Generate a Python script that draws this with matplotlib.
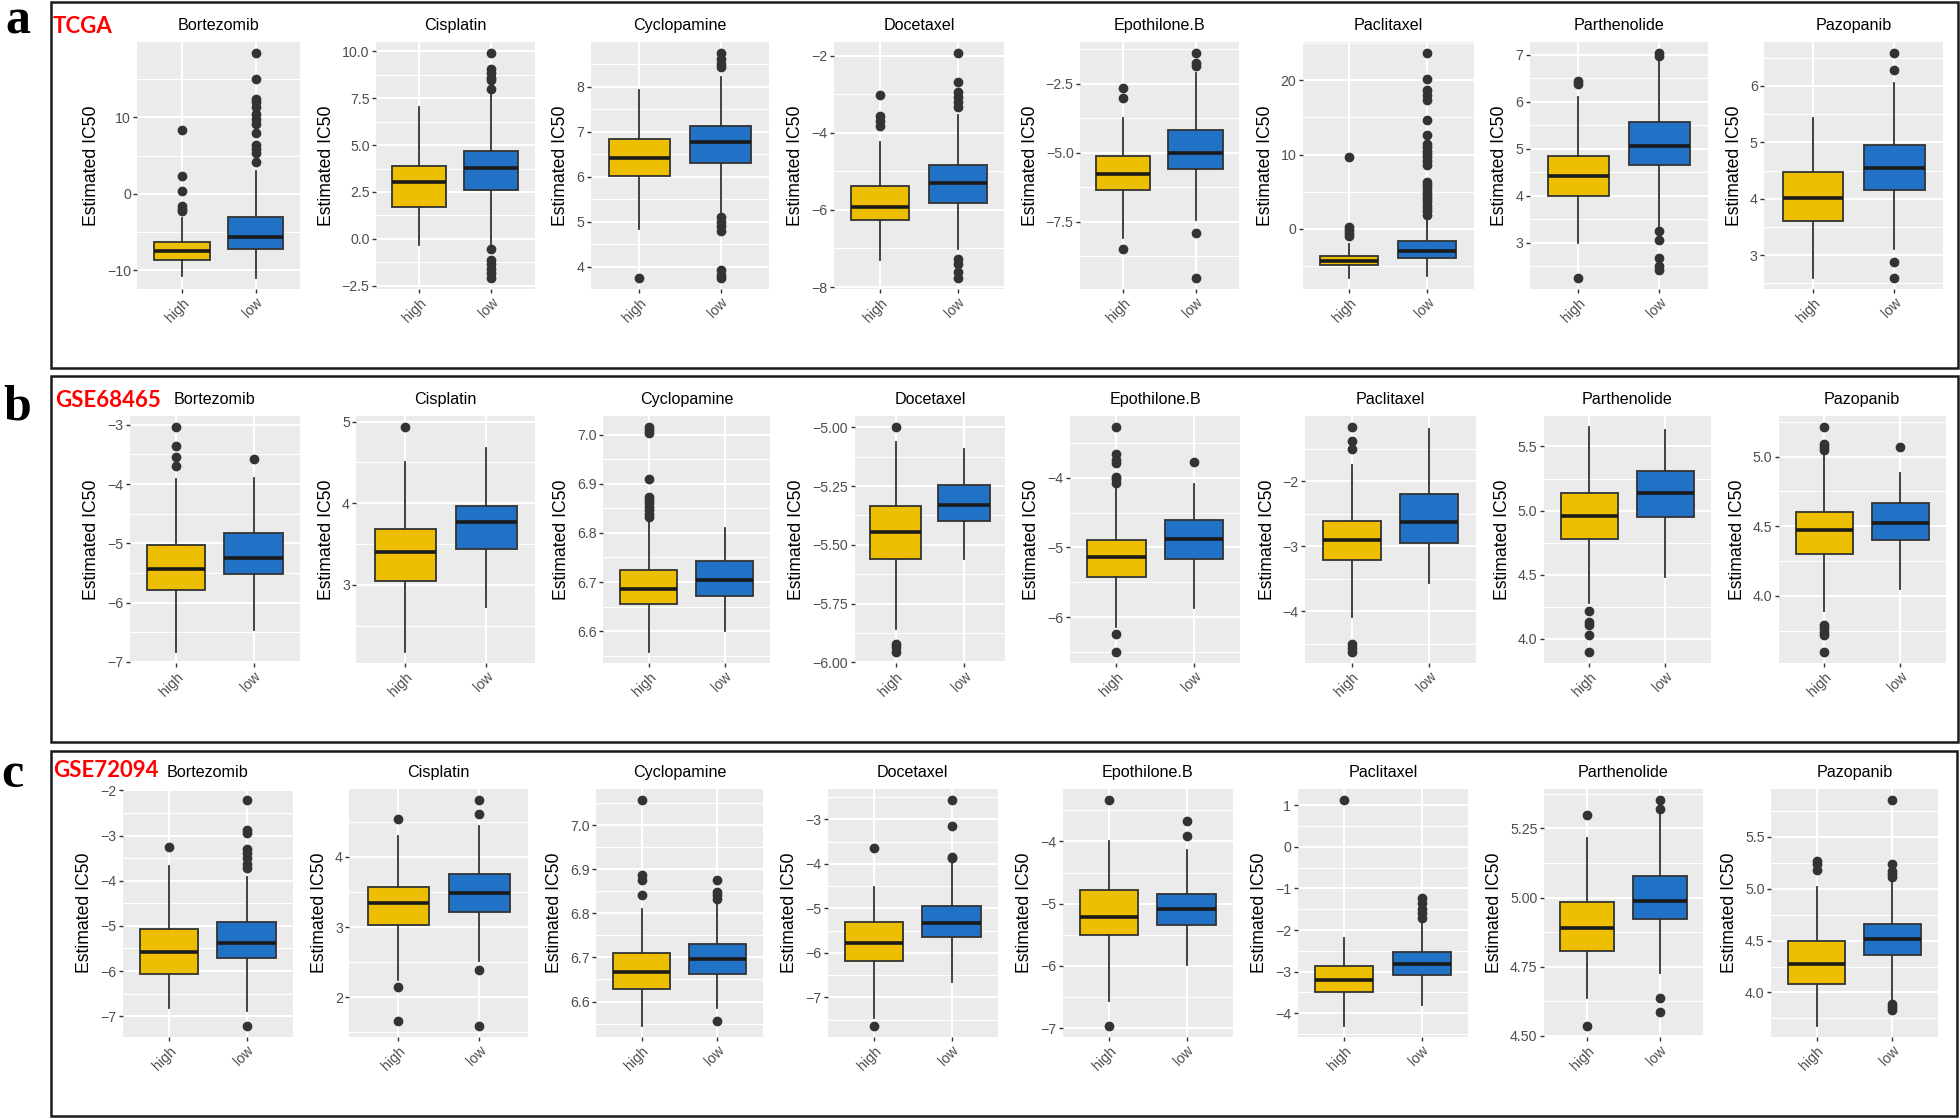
import matplotlib.pyplot as plt
from matplotlib.patches import Rectangle

drugs = ["Bortezomib", "Cisplatin", "Cyclopamine", "Docetaxel",
         "Epothilone.B", "Paclitaxel", "Parthenolide", "Pazopanib"]
groups = ["high", "low"]
cohorts = ["TCGA", "GSE68465", "GSE72094"]
tags = ["a", "b", "c"]
colors = ["#EDBF00", "#2171C7"]

# five-number summaries per drug: [lower whisker, q1, median, q3, upper whisker]
tcga_high = [
    [-10.76, -8.63, -7.5, -6.29, -3.17],
    [-0.30, 1.70, 3.04, 3.90, 7.0],
    [4.83, 6.02, 6.42, 6.84, 7.93],
    [-7.31, -6.26, -5.92, -5.39, -4.25],
    [-8.09, -6.35, -5.76, -5.12, -3.73],
    [-6.62, -4.92, -4.3, -3.62, -2.01],
    [2.99, 3.99, 4.42, 4.85, 6.1],
    [2.6, 3.6, 4.02, 4.47, 5.44],
]
tcga_low = [
    [-10.98, -7.2, -5.68, -3.04, 3.04],
    [-0.3, 2.61, 3.76, 4.68, 7.83],
    [5.15, 6.31, 6.76, 7.12, 8.21],
    [-7.02, -5.83, -5.31, -4.84, -3.53],
    [-7.45, -5.6, -5.02, -4.16, -2.12],
    [-6.4, -3.94, -3.04, -1.7, 1.5],
    [3.32, 4.66, 5.05, 5.57, 6.89],
    [3.11, 4.16, 4.54, 4.95, 6.05],
]
tcga_high_out = [
    [8.3, 2.3, 0.4, -1.6, -2.0, -2.2],
    [],
    [3.75],
    [-3.01, -3.56, -3.69, -3.82],
    [-2.64, -3.02, -8.47],
    [9.62, 0.18, -0.13, -0.58, -0.94],
    [6.45, 6.38, 2.26],
    [],
]
tcga_low_out = [
    [18.4, 15.0, 12.4, 12.0, 11.4, 10.5, 9.8, 9.2, 7.9, 6.4, 5.9, 5.3, 4.2],
    [9.89, 9.06, 8.83, 8.59, 8.45, 8.0, -0.53, -1.1, -1.36, -1.59, -1.8, -2.07],
    [8.74, 8.61, 8.5, 8.43, 5.11, 5.0, 4.89, 4.78, 3.92, 3.82, 3.75],
    [-1.94, -2.69, -2.95, -3.08, -3.21, -3.34, -7.28, -7.41, -7.62, -7.76],
    [-1.39, -1.75, -1.87, -7.91, -9.53],
    [23.67, 20.22, 18.66, 17.99, 17.32, 14.72, 12.62, 11.41, 10.96, 10.51,
     10.07, 9.62, 9.17, 8.59, 6.35, 5.91, 5.46, 5.01, 4.58, 4.12, 3.67,
     3.22, 2.77, 2.33, 1.8],
    [7.03, 6.98, 3.25, 3.07, 2.68, 2.5, 2.43],
    [6.58, 6.29, 2.88, 2.6],
]
tcga_yticks = [
    [-10, 0, 10], [-2.5, 0, 2.5, 5, 7.5, 10], [4, 5, 6, 7, 8], [-8, -6, -4, -2],
    [-7.5, -5, -2.5], [0, 10, 20], [3, 4, 5, 6, 7], [3, 4, 5, 6],
]

gse68465_high = [
    [-6.83, -5.79, -5.43, -5.03, -3.91],
    [2.18, 3.05, 3.40, 3.68, 4.5],
    [6.558, 6.655, 6.685, 6.724, 6.823],
    [-5.859, -5.559, -5.445, -5.336, -5.061],
    [-6.15, -5.43, -5.14, -4.89, -4.13],
    [-4.09, -3.21, -2.90, -2.61, -1.75],
    [4.28, 4.78, 4.96, 5.14, 5.65],
    [3.89, 4.30, 4.47, 4.6, 5.03],
]
gse68465_low = [
    [-6.46, -5.51, -5.24, -4.83, -3.9],
    [2.73, 3.44, 3.77, 3.96, 4.67],
    [6.601, 6.671, 6.704, 6.742, 6.81],
    [-5.559, -5.397, -5.329, -5.244, -5.092],
    [-5.87, -5.16, -4.88, -4.6, -4.08],
    [-3.56, -2.95, -2.62, -2.19, -1.2],
    [4.48, 4.95, 5.14, 5.31, 5.63],
    [4.05, 4.40, 4.52, 4.67, 4.88],
]
gse68465_high_out = [
    [-3.04, -3.35, -3.54, -3.70],
    [4.93],
    [7.015, 7.009, 7.004, 6.910, 6.874, 6.867, 6.860, 6.853, 6.847, 6.838, 6.832],
    [-5.0, -5.922, -5.936, -5.955],
    [-3.27, -3.65, -3.74, -3.78, -3.98, -4.02, -4.07, -6.25, -6.5],
    [-1.17, -1.38, -1.5, -4.5, -4.56, -4.62],
    [4.22, 4.13, 4.11, 4.03, 3.9],
    [5.21, 5.09, 5.07, 5.05, 3.79, 3.77, 3.74, 3.72, 3.60],
]
gse68465_low_out = [
    [-3.57], [], [], [], [-3.77], [], [], [5.07],
]
gse68465_yticks = [
    [-7, -6, -5, -4, -3], [3, 4, 5], [6.6, 6.7, 6.8, 6.9, 7.0],
    [-6.0, -5.75, -5.5, -5.25, -5.0], [-6, -5, -4], [-4, -3, -2],
    [4.0, 4.5, 5.0, 5.5], [4.0, 4.5, 5.0],
]

gse72094_high = [
    [-6.81, -6.07, -5.58, -5.08, -3.67],
    [2.25, 3.03, 3.34, 3.57, 4.3],
    [6.545, 6.629, 6.666, 6.711, 6.811],
    [-7.46, -6.19, -5.79, -5.31, -4.51],
    [-6.56, -5.51, -5.22, -4.78, -4.0],
    [-4.3, -3.49, -3.19, -2.86, -2.18],
    [4.638, 4.807, 4.891, 4.985, 5.216],
    [3.68, 4.08, 4.27, 4.5, 5.02],
]
gse72094_low = [
    [-6.88, -5.71, -5.38, -4.91, -3.92],
    [2.51, 3.21, 3.48, 3.75, 4.44],
    [6.585, 6.663, 6.697, 6.731, 6.826],
    [-6.66, -5.65, -5.32, -4.94, -3.95],
    [-5.98, -5.34, -5.08, -4.85, -4.14],
    [-3.8, -3.09, -2.82, -2.53, -1.84],
    [4.728, 4.921, 4.989, 5.078, 5.304],
    [3.91, 4.36, 4.51, 4.66, 5.09],
]
gse72094_high_out = [
    [-3.25],
    [4.54, 2.14, 1.66],
    [7.057, 6.888, 6.875, 6.843],
    [-3.65, -7.64],
    [-3.34, -6.96],
    [1.12],
    [5.298, 4.536],
    [5.27, 5.24, 5.18],
]
gse72094_low_out = [
    [-2.22, -2.88, -2.95, -3.3, -3.39, -3.49, -3.62, -3.71, -7.21],
    [4.81, 4.62, 2.39, 1.59],
    [6.875, 6.849, 6.842, 6.832, 6.556],
    [-2.57, -3.14, -3.85, -3.87],
    [-3.68, -3.91],
    [-1.24, -1.36, -1.5, -1.6, -1.7],
    [5.352, 5.322, 4.636, 4.584],
    [5.85, 5.24, 5.17, 5.14, 5.11, 3.89, 3.86, 3.83],
]
gse72094_yticks = [
    [-7, -6, -5, -4, -3, -2], [2, 3, 4], [6.6, 6.7, 6.8, 6.9, 7.0],
    [-7, -6, -5, -4, -3], [-7, -6, -5, -4], [-4, -3, -2, -1, 0, 1],
    [4.5, 4.75, 5.0, 5.25], [4.0, 4.5, 5.0, 5.5],
]

rows = [
    (tcga_high, tcga_low, tcga_high_out, tcga_low_out, tcga_yticks),
    (gse68465_high, gse68465_low, gse68465_high_out, gse68465_low_out, gse68465_yticks),
    (gse72094_high, gse72094_low, gse72094_high_out, gse72094_low_out, gse72094_yticks),
]

# layout in pixels
W, H = 1960, 1119
panel_top = [42, 416, 789]
panel_bottom = [289, 663, 1037]
first_right = [300, 300, 293]
step = [234.7, 235.1, 235.0]
frames = [(50.5, 1.5, 1957.5, 367.5), (50.5, 376, 1957.5, 742), (50.5, 750.5, 1957, 1116)]
tag_pos = [(5, 33), (3, 419), (1, 787)]
cohort_pos = [(53, 33), (55, 407), (53, 777)]

plt.rcParams['font.family'] = ['Liberation Sans', 'DejaVu Sans']


def fmt_ticks(ticks):
    dec = 0
    for t in ticks:
        s = f"{t:g}"
        if "." in s:
            dec = max(dec, len(s.split(".")[1]))
    return [f"{t:.{dec}f}".replace("-", "\u2212") for t in ticks]


def px_rect(left, top, right, bottom):
    return [left / W, 1 - bottom / H, (right - left) / W, (bottom - top) / H]


fig = plt.figure(figsize=(W / 100, H / 100), dpi=100)
panels = []

for r, (hi, lo, hi_out, lo_out, yticks) in enumerate(rows):
    for i, drug in enumerate(drugs):
        right = first_right[r] + step[r] * i
        ax = fig.add_axes(px_rect(right - 160, panel_top[r], right, panel_bottom[r]))
        stats = [
            dict(whislo=hi[i][0], q1=hi[i][1], med=hi[i][2], q3=hi[i][3], whishi=hi[i][4], fliers=hi_out[i]),
            dict(whislo=lo[i][0], q1=lo[i][1], med=lo[i][2], q3=lo[i][3], whishi=lo[i][4], fliers=lo_out[i]),
        ]
        bp = ax.bxp(stats, positions=[1, 2], widths=0.75, patch_artist=True,
                    showcaps=False, manage_ticks=False,
                    boxprops=dict(edgecolor="#333333", linewidth=1.3),
                    medianprops=dict(color="#1a1a1a", linewidth=2.6),
                    whiskerprops=dict(color="#333333", linewidth=1.3),
                    flierprops=dict(marker="o", markerfacecolor="#333333",
                                    markeredgecolor="#333333", markersize=6))
        for patch, c in zip(bp["boxes"], colors):
            patch.set_facecolor(c)

        ax.set_xlim(0.4, 2.6)
        ylim = ax.get_ylim()
        ticks = yticks[i]
        d = ticks[1] - ticks[0]
        minor = [t - d / 2 for t in ticks] + [ticks[-1] + d / 2]
        ax.set_yticks(ticks)
        ax.set_yticklabels(fmt_ticks(ticks))
        ax.set_yticks(minor, minor=True)
        ax.set_ylim(ylim)
        ax.set_xticks([1, 2])
        ax.set_xticklabels(groups, rotation=45, ha="right", va="top",
                           rotation_mode="anchor")

        ax.set_facecolor("#EBEBEB")
        for s in ax.spines.values():
            s.set_visible(False)
        ax.set_axisbelow(True)
        ax.grid(which="major", color="white", linewidth=1.5)
        ax.grid(which="minor", axis="y", color="white", linewidth=0.75)
        ax.tick_params(which="major", length=2.9, width=1.0, color="#333333",
                       labelcolor="#4D4D4D", labelsize=10.2, pad=1.8)
        ax.tick_params(which="minor", length=0)
        ax.set_title(drug, fontsize=11.6, pad=8.6, color="black")
        ax.set_ylabel("Estimated IC50", fontsize=12.7, labelpad=5, color="black")
        panels.append((ax, right, panel_top[r], panel_bottom[r]))

# shift each panel so its y-axis title starts at the same spot in its cell
fig.canvas.draw()
renderer = fig.canvas.get_renderer()
for ax, right, top, bottom in panels:
    x0 = ax.yaxis.label.get_window_extent(renderer).x0
    left = ax.get_position().x0 * W
    new_left = left + (right - 217) - x0
    ax.set_position(px_rect(new_left, top, right, bottom))

for r in range(3):
    x0, y0, x1, y1 = frames[r]
    fig.add_artist(Rectangle((x0 / W, 1 - y1 / H), (x1 - x0) / W, (y1 - y0) / H,
                             transform=fig.transFigure, fill=False,
                             linewidth=1.8, edgecolor="#1a1a1a"))
    tx, ty = tag_pos[r]
    fig.text(tx / W, 1 - ty / H, tags[r], fontsize=36, fontweight="bold",
             family="Liberation Serif", va="baseline", ha="left")
    cx, cy = cohort_pos[r]
    fig.text(cx / W, 1 - cy / H, cohorts[r], fontsize=16, fontweight="bold",
             family="Lato", color="red", va="baseline", ha="left")

fig.savefig("out.png", dpi=100)
